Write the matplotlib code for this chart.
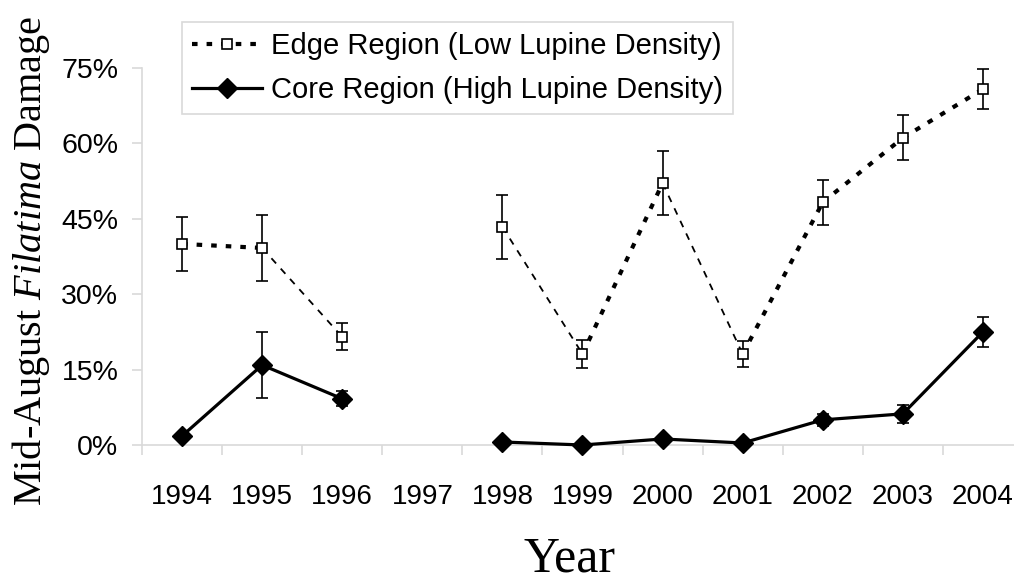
import numpy as np
import matplotlib
matplotlib.use("Agg")
import matplotlib.pyplot as plt
from matplotlib.lines import Line2D
from matplotlib.ticker import PercentFormatter

# data (fractions, nan = no survey in 1997)
years = ["1994", "1995", "1996", "1997", "1998", "1999",
         "2000", "2001", "2002", "2003", "2004"]
edge = [0.400, 0.392, 0.215, np.nan, 0.434, 0.181,
        0.521, 0.181, 0.483, 0.611, 0.708]
edge_err = [0.054, 0.066, 0.027, np.nan, 0.063, 0.028,
            0.063, 0.026, 0.045, 0.045, 0.040]
core = [0.018, 0.159, 0.092, np.nan, 0.006, 0.000,
        0.012, 0.004, 0.050, 0.062, 0.225]
core_err = [0.0, 0.065, 0.015, np.nan, 0.0, 0.0,
            0.0, 0.0, 0.012, 0.018, 0.030]

# which edge segments render heavy (round dot) vs thin dash
edge_seg_heavy = [True, False, None, None, False, True, False, True, True, True]

sans = "Liberation Sans"
serif = "Liberation Serif"
plt.rcParams["font.family"] = [sans, "DejaVu Sans"]
plt.rcParams["mathtext.fontset"] = "custom"
plt.rcParams["mathtext.rm"] = serif
plt.rcParams["mathtext.it"] = serif + ":italic"
plt.rcParams["lines.scale_dashes"] = False

fig = plt.figure(figsize=(10.14, 5.83), dpi=100)
ax = fig.add_axes([142 / 1014, 138 / 583, 881 / 1014, 377 / 583])

x = np.arange(len(years))
grey = "#d9d9d9"
heavy_dash = (4.0, 6.5)
thin_dash = (5.0, 5.0)

# edge region, drawn segment by segment
for i in range(len(x) - 1):
    heavy = edge_seg_heavy[i]
    if heavy is None:
        continue
    if heavy:
        ax.plot(x[i:i + 2], edge[i:i + 2], color="black", lw=3.0,
                dashes=heavy_dash, zorder=3)
    else:
        ax.plot(x[i:i + 2], edge[i:i + 2], color="black", lw=1.3,
                dashes=thin_dash, zorder=3)
ax.errorbar(x, edge, yerr=edge_err, fmt="s", ms=6.5, mfc="white", mec="black",
            mew=1.2, ecolor="black", elinewidth=1.2, capsize=4.3, capthick=1.2,
            zorder=4, clip_on=False)

# core region
ax.errorbar(x, core, yerr=core_err, fmt="-D", color="black", lw=2.3, ms=10,
            ecolor="black", elinewidth=1.2, capsize=4.3, capthick=1.2,
            zorder=5, clip_on=False)

ax.set_xlim(-0.5, 10.5)
ax.set_ylim(0, 0.75)
ax.set_yticks(np.arange(0, 0.76, 0.15))
ax.yaxis.set_major_formatter(PercentFormatter(1.0, decimals=0))
ax.set_xticks(x)
ax.set_xticklabels(years)
ax.set_xticks(np.arange(-0.5, 11, 1), minor=True)

for s in ["top", "right"]:
    ax.spines[s].set_visible(False)
for s in ["left", "bottom"]:
    ax.spines[s].set_color(grey)
    ax.spines[s].set_linewidth(1.2)

ax.tick_params(axis="x", which="major", length=0, pad=28, labelsize=20)
ax.tick_params(axis="x", which="minor", length=7, width=1.2, color=grey)
ax.tick_params(axis="y", length=7, width=1.2, color=grey, pad=10, labelsize=20.5)

fig.text(31 / 1014, 1 - 261 / 583, r"Mid-August $\mathit{Filatima}$ Damage",
         rotation=90, ha="center", va="center", family=serif, fontsize=29)
fig.text(570 / 1014, 0.0, "Year", ha="center", va="bottom",
         family=serif, fontsize=36)

h_edge = Line2D([], [], color="black", lw=3.0, dashes=heavy_dash, marker="s",
                ms=6.5, mfc="white", mec="black", mew=1.2)
h_core = Line2D([], [], color="black", lw=2.3, marker="D", ms=10)
leg = ax.legend([h_edge, h_core],
                ["Edge Region (Low Lupine Density)", "Core Region (High Lupine Density)"],
                loc="upper left", bbox_to_anchor=(182 / 1014, 1 - 22 / 583),
                bbox_transform=fig.transFigure, borderaxespad=0, fontsize=21,
                fancybox=False, edgecolor=grey, framealpha=1, handlelength=2.4,
                handletextpad=0.3, labelspacing=0.55, borderpad=0.35)
leg.get_frame().set_linewidth(1.2)

fig.savefig("out.png", dpi=100)
